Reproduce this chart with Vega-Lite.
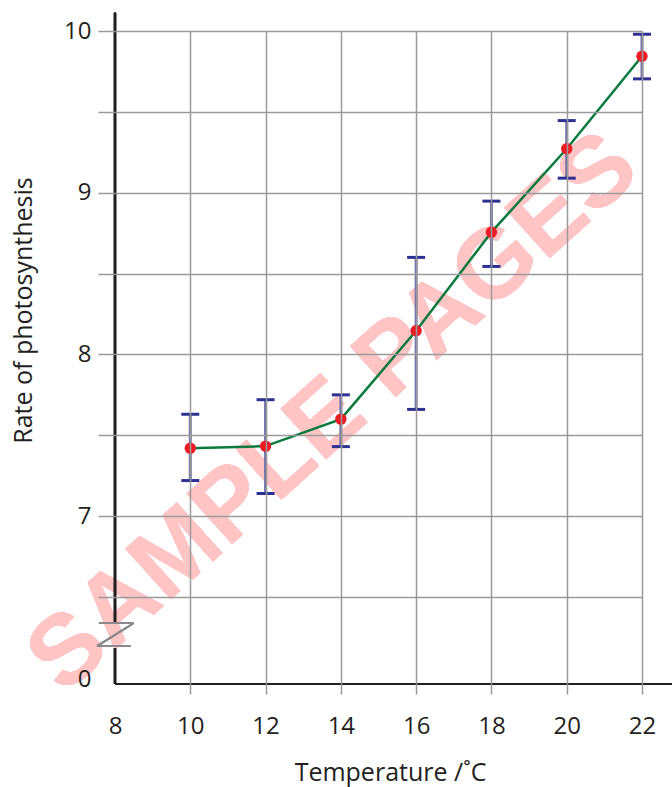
{
  "$schema": "https://vega.github.io/schema/vega-lite/v6.json",
  "width": 527,
  "height": 653,
  "autosize": {"type": "none"},
  "padding": {"left": 115, "top": 31, "right": 30, "bottom": 103},
  "background": "white",
  "config": {"view": {"stroke": null}, "font": "Open Sans"},
  "data": {
    "values": [
      {"t": 10, "r": 7.42, "lo": 7.22, "hi": 7.63},
      {"t": 12, "r": 7.433, "lo": 7.14, "hi": 7.72},
      {"t": 14, "r": 7.6, "lo": 7.43, "hi": 7.75},
      {"t": 16, "r": 8.146, "lo": 7.66, "hi": 8.6},
      {"t": 18, "r": 8.756, "lo": 8.544, "hi": 8.948},
      {"t": 20, "r": 9.272, "lo": 9.09, "hi": 9.446},
      {"t": 22, "r": 9.844, "lo": 9.704, "hi": 9.98}
    ]
  },
  "layer": [
    {
      "mark": {"type": "text", "text": "SAMPLE PAGES", "angle": 318, "fontSize": 99, "fontWeight": "bold", "font": "Liberation Sans", "fill": "#ffc4c4", "align": "center", "baseline": "middle"},
      "encoding": {
        "x": {"datum": 13.8, "type": "quantitative", "scale": {"domain": [8, 22], "nice": false},
          "axis": {
            "zindex": 1,
            "values": [8, 10, 12, 14, 16, 18, 20, 22],
            "title": "Temperature /˚C",
            "domain": false,
            "grid": true,
            "gridColor": "#9a9a9a",
            "gridWidth": 1.5,
            "gridOpacity": {"condition": {"test": "datum.value == 8", "value": 0}, "value": 1},
            "tickColor": "#9a9a9a",
            "tickWidth": 1.5,
            "tickSize": 10,
            "tickOpacity": {"condition": {"test": "datum.value == 8", "value": 0}, "value": 1},
            "labelExpr": "format(datum.value, 'd')",
            "labelFont": "Open Sans",
            "labelFontSize": 24,
            "labelColor": "#231f20",
            "labelPadding": 20,
            "labelFlush": false,
            "labelOverlap": false,
            "titleFont": "Open Sans",
            "titleFontSize": 25,
            "titleFontWeight": "normal",
            "titleColor": "#231f20",
            "titleX": 275,
            "titleY": 96,
            "titleBaseline": "alphabetic",
            "titleAlign": "center"
          }
        },
        "y": {"datum": 7.64, "type": "quantitative", "scale": {"domain": [5.962, 10], "nice": false, "zero": false},
          "axis": {
            "zindex": 1,
            "values": [5.99, 6.5, 7, 7.5, 8, 8.5, 9, 9.5, 10],
            "labelExpr": "datum.value < 6.2 ? '0' : (datum.value % 1 == 0 ? format(datum.value, 'd') : '')",
            "title": "Rate of photosynthesis",
            "domain": false,
            "grid": true,
            "gridColor": "#9a9a9a",
            "gridWidth": 1.5,
            "gridOpacity": {"condition": {"test": "datum.value < 6.2", "value": 0}, "value": 1},
            "tickColor": "#9a9a9a",
            "tickWidth": 1.5,
            "tickSize": 17,
            "tickOpacity": {"condition": {"test": "datum.value < 6.2", "value": 0}, "value": 1},
            "labelFont": "Open Sans",
            "labelFontSize": 24,
            "labelColor": "#231f20",
            "labelPadding": 7,
            "labelOverlap": false,
            "labelFlush": false,
            "titleFont": "Open Sans",
            "titleFontSize": 25,
            "titleFontWeight": "normal",
            "titleColor": "#231f20",
            "titleAngle": 270,
            "titleX": -84,
            "titleY": 279,
            "titleBaseline": "alphabetic",
            "titleAlign": "center"
          }
        }
      }
    },
    {
      "mark": {"type": "rule", "color": "#6e6fa6", "strokeWidth": 3},
      "encoding": {
        "x": {"field": "t", "type": "quantitative"},
        "y": {"field": "lo", "type": "quantitative"},
        "y2": {"field": "hi"}
      }
    },
    {
      "mark": {"type": "tick", "orient": "horizontal", "size": 18, "thickness": 3, "color": "#2e3192", "opacity": 1},
      "encoding": {
        "x": {"field": "t", "type": "quantitative"},
        "y": {"field": "hi", "type": "quantitative"}
      }
    },
    {
      "mark": {"type": "tick", "orient": "horizontal", "size": 18, "thickness": 3, "color": "#2e3192", "opacity": 1},
      "encoding": {
        "x": {"field": "t", "type": "quantitative"},
        "y": {"field": "lo", "type": "quantitative"}
      }
    },
    {
      "mark": {"type": "line", "color": "#0b7a3e", "strokeWidth": 2.5},
      "encoding": {
        "x": {"field": "t", "type": "quantitative"},
        "y": {"field": "r", "type": "quantitative"}
      }
    },
    {
      "mark": {"type": "circle", "color": "#ed1c24", "size": 130, "opacity": 1},
      "encoding": {
        "x": {"field": "t", "type": "quantitative"},
        "y": {"field": "r", "type": "quantitative"}
      }
    },
    {
      "mark": {"type": "rule", "color": "#231f20", "strokeWidth": 2.2},
      "encoding": {"x": {"datum": 8}, "x2": {"datum": 22.81}, "y": {"datum": 5.962}}
    },
    {
      "mark": {"type": "rule", "color": "#231f20", "strokeWidth": 2.2},
      "encoding": {"x": {"datum": 8}, "y": {"datum": 6.347}, "y2": {"datum": 10.113}}
    },
    {
      "mark": {"type": "rule", "color": "#231f20", "strokeWidth": 2.2},
      "encoding": {"x": {"datum": 8}, "y": {"datum": 5.962}, "y2": {"datum": 6.184}}
    },
    {
      "mark": {"type": "rule", "color": "#8a8a8a", "strokeWidth": 1.5},
      "encoding": {"x": {"datum": 7.574}, "x2": {"datum": 8.487}, "y": {"datum": 6.337}}
    },
    {
      "mark": {"type": "rule", "color": "#8a8a8a", "strokeWidth": 1.5},
      "encoding": {"x": {"datum": 8.487}, "x2": {"datum": 7.527}, "y": {"datum": 6.337}, "y2": {"datum": 6.197}}
    },
    {
      "mark": {"type": "rule", "color": "#8a8a8a", "strokeWidth": 1.5},
      "encoding": {"x": {"datum": 7.527}, "x2": {"datum": 8.41}, "y": {"datum": 6.197}}
    }
  ]
}
